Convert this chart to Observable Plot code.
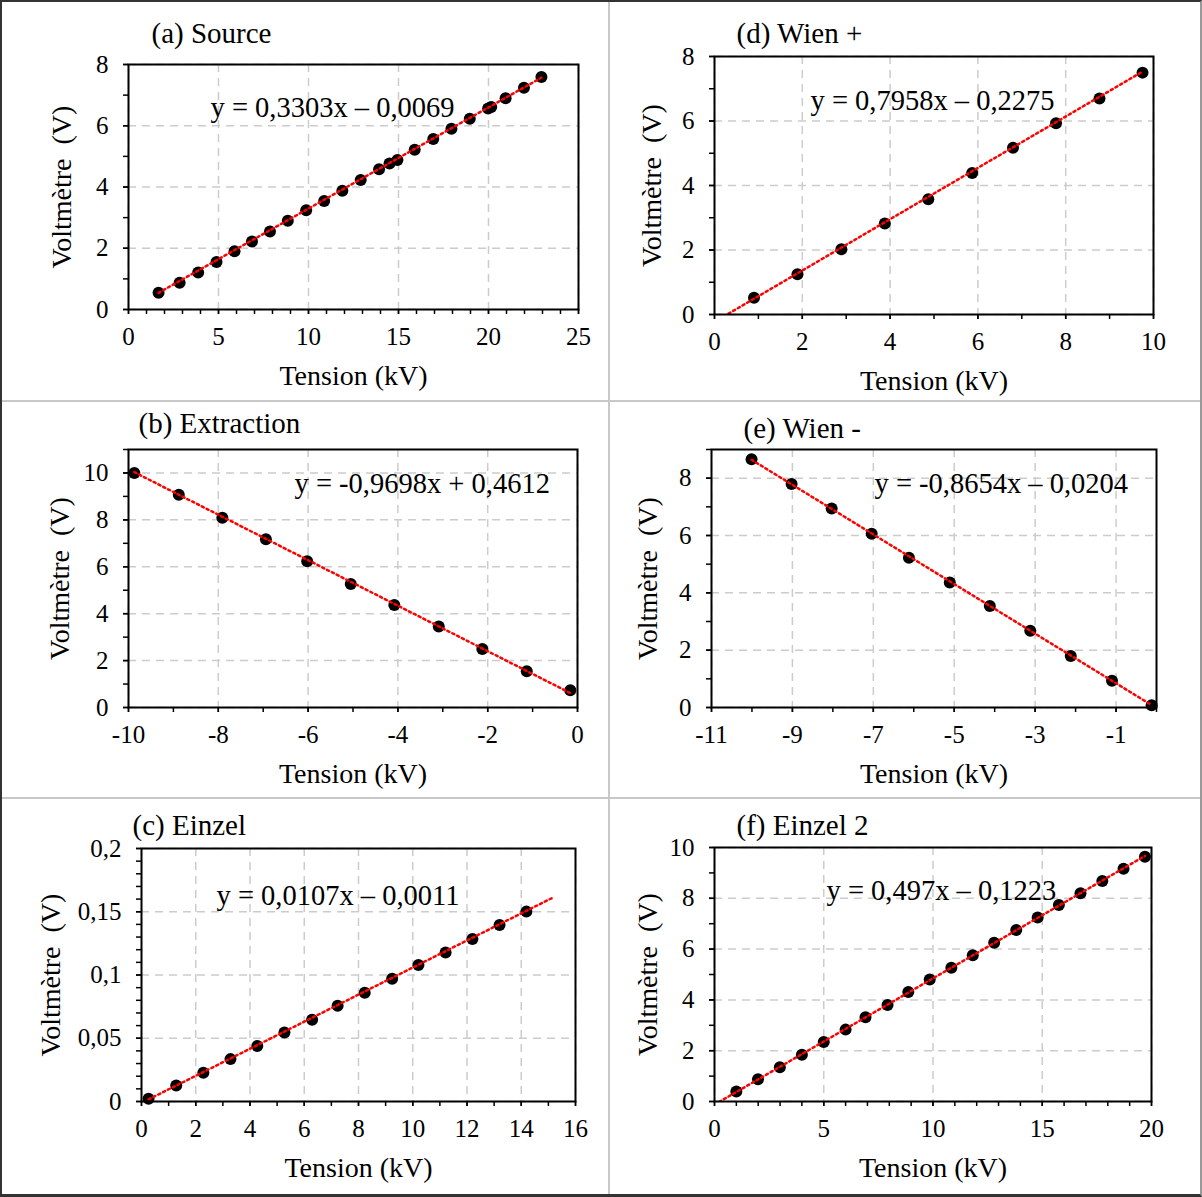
<!DOCTYPE html>
<html><head><meta charset="utf-8">
<script src="https://cdn.jsdelivr.net/npm/d3@7"></script>
<script src="https://cdn.jsdelivr.net/npm/@observablehq/plot@0.6"></script>
<style>
html,body{margin:0;padding:0;background:#fff;overflow:hidden}
#wrap{position:relative;width:1202px;height:1197px;background:#fff}
.cell{position:absolute}
.border{position:absolute;left:0;top:0;width:1202px;height:1197px;box-sizing:border-box;border-left:2px solid #333;border-top:2px solid #333;border-bottom:3px solid #333;border-right:2px solid #999;pointer-events:none}
.vline{position:absolute;left:608px;top:0;width:2px;height:1197px;background:#c8c8c8}
.hline{position:absolute;left:0;width:1202px;height:2px;background:#c8c8c8}
</style></head><body><div id="wrap"></div>
<script>
// ---- data ----
const sourceX = [1.67, 2.84, 3.87, 4.89, 5.89, 6.86, 7.86, 8.85, 9.87, 10.87, 11.88, 12.9, 13.92, 14.5, 14.94, 15.9, 16.93, 17.94, 18.96, 19.98, 20.15, 20.95, 21.97, 22.94];
const sourceY = [0.55, 0.87, 1.21, 1.55, 1.90, 2.22, 2.55, 2.90, 3.24, 3.54, 3.88, 4.23, 4.58, 4.77, 4.88, 5.22, 5.57, 5.90, 6.23, 6.56, 6.61, 6.90, 7.24, 7.59];

const extractionX = [-9.87, -8.88, -7.91, -6.94, -6.02, -5.05, -4.08, -3.09, -2.12, -1.13, -0.16];
const extractionY = [10.0, 9.07, 8.09, 7.17, 6.24, 5.27, 4.37, 3.45, 2.49, 1.55, 0.74];

const einzelX = [0.26, 1.28, 2.28, 3.28, 4.27, 5.27, 6.29, 7.23, 8.23, 9.24, 10.21, 11.21, 12.2, 13.2, 14.19];
const einzelY = [0.0021, 0.0127, 0.0227, 0.0335, 0.0438, 0.0546, 0.0646, 0.0757, 0.086, 0.0971, 0.1079, 0.1177, 0.1285, 0.1396, 0.1501];

const wienPlusX = [0.90, 1.89, 2.89, 3.88, 4.87, 5.87, 6.80, 7.78, 8.77, 9.75];
const wienPlusY = [0.52, 1.25, 2.02, 2.82, 3.57, 4.39, 5.17, 5.93, 6.70, 7.50];

const wienMinusX = [-10.01, -9.02, -8.03, -7.04, -6.12, -5.11, -4.12, -3.12, -2.12, -1.1, -0.12];
const wienMinusY = [8.66, 7.80, 6.94, 6.06, 5.22, 4.36, 3.54, 2.68, 1.80, 0.93, 0.08];

const einzel2X = [1.0, 1.99, 2.99, 4.0, 5.0, 6.0, 6.91, 7.92, 8.87, 9.85, 10.84, 11.82, 12.8, 13.81, 14.79, 15.76, 16.75, 17.75, 18.72, 19.70];
const einzel2Y = [0.39, 0.88, 1.35, 1.84, 2.34, 2.83, 3.32, 3.80, 4.31, 4.80, 5.27, 5.76, 6.25, 6.75, 7.24, 7.74, 8.20, 8.68, 9.16, 9.64];

// titles and fitted equations (slope, intercept as printed)
const titles = ["(a) Source", "(d) Wien +", "(b) Extraction", "(e) Wien -", "(c) Einzel", "(f) Einzel 2"];
const equations = ["y = 0,3303x – 0,0069", "y = 0,7958x – 0,2275", "y = -0,9698x + 0,4612", "y = -0,8654x – 0,0204", "y = 0,0107x – 0,0011", "y = 0,497x – 0,1223"];
const slopes = [0.3303, 0.7958, -0.9698, -0.8654, 0.0107, 0.497];
const intercepts = [-0.0069, -0.2275, 0.4612, -0.0204, -0.0011, -0.1223];
const trendRanges = [[1.67, 22.94], [0, 9.75], [-9.87, -0.16], [-10.01, -0.12], [0.26, 15.2], [0, 19.7]];

// tick labels
const xTicksA = [0, 5, 10, 15, 20, 25], yTicksA = [0, 2, 4, 6, 8];
const xTicksD = [0, 2, 4, 6, 8, 10], yTicksD = [0, 2, 4, 6, 8];
const xTicksB = [-10, -8, -6, -4, -2, 0], yTicksB = [0, 2, 4, 6, 8, 10];
const xTicksE = [-11, -9, -7, -5, -3, -1], yTicksE = [0, 2, 4, 6, 8];
const xTicksC = [0, 2, 4, 6, 8, 10, 12, 14, 16], yTicksC = [0, 0.05, 0.1, 0.15, 0.2];
const xTicksF = [0, 5, 10, 15, 20], yTicksF = [0, 2, 4, 6, 8, 10];

const xLabel = "Tension (kV)";
const yLabel = "Voltmètre  (V)";

// ---- layout ----
const panels = [
  {xs: sourceX, ys: sourceY, xd: [0, 25], yd: [0, 8], xt: xTicksA, yt: yTicksA, xm: d3.range(0, 26), ym: d3.range(0, 9),
   left: 0, top: 0, w: 600, h: 400, ml: 128, mr: 22, mt: 64, mb: 91, t: [23, -31], e: [82, 43], yl: -66},
  {xs: wienPlusX, ys: wienPlusY, xd: [0, 10], yd: [0, 8], xt: xTicksD, yt: yTicksD, xm: d3.range(0, 11), ym: d3.range(0, 9),
   left: 600, top: 0, w: 602, h: 400, ml: 114, mr: 49, mt: 56, mb: 86, t: [22, -23], e: [96, 44], yl: -62},
  {xs: extractionX, ys: extractionY, xd: [-10, 0], yd: [0, 11], xt: xTicksB, yt: yTicksB, xm: d3.range(-10, 1), ym: d3.range(0, 12),
   left: 0, top: 400, w: 600, h: 400, ml: 128, mr: 23, mt: 49, mb: 93, t: [10, -26], e: [166, 34], yl: -68},
  {xs: wienMinusX, ys: wienMinusY, xd: [-11, 0], yd: [0, 9], xt: xTicksE, yt: yTicksE, xm: d3.range(-11, 1), ym: d3.range(0, 10),
   left: 600, top: 400, w: 602, h: 400, ml: 111, mr: 46, mt: 49, mb: 93, t: [32, -21], e: [163, 34], yl: -63},
  {xs: einzelX, ys: einzelY, xd: [0, 16], yd: [0, 0.2], xt: xTicksC, yt: yTicksC, xm: d3.range(0, 17), ym: d3.range(0, 21).map(i => i / 100),
   left: 0, top: 800, w: 600, h: 397, ml: 141, mr: 25, mt: 48, mb: 96, t: [-9, -23], e: [75, 47], yl: -90},
  {xs: einzel2X, ys: einzel2Y, xd: [0, 20], yd: [0, 10], xt: xTicksF, yt: yTicksF, xm: d3.range(0, 21), ym: d3.range(0, 11),
   left: 600, top: 800, w: 602, h: 397, ml: 114, mr: 51, mt: 47, mb: 96, t: [22, -22], e: [112, 43], yl: -66}
];

const serif = "'Liberation Serif','Times New Roman',serif";
const fmt = d => String(d).replace(".", ",");
const gridStyle = {stroke: "#cccccc", strokeOpacity: 1, strokeWidth: 1.5, strokeDasharray: "8,6"};
const wrap = document.getElementById("wrap");

panels.forEach((p, i) => {
  const pts = p.xs.map((x, j) => ({x, y: p.ys[j]}));
  const trend = trendRanges[i].map(x => ({x, y: slopes[i] * x + intercepts[i]}));
  const chart = Plot.plot({
    width: p.w, height: p.h,
    marginLeft: p.ml, marginRight: p.mr, marginTop: p.mt, marginBottom: p.mb,
    style: `background:transparent;font-family:${serif};font-size:25px;color:#000;overflow:visible`,
    x: {domain: p.xd, axis: null},
    y: {domain: p.yd, axis: null},
    marks: [
      Plot.gridX(p.xt, gridStyle),
      Plot.gridY(p.yt, gridStyle),
      Plot.axisX(p.xm, {tickSize: 5, tickFormat: () => "", label: null, strokeWidth: 1.5}),
      Plot.axisX(p.xt, {tickSize: 5, tickPadding: 13, tickFormat: fmt, label: null, strokeWidth: 1.5}),
      Plot.axisY(p.ym, {tickSize: 5, tickFormat: () => "", label: null, strokeWidth: 1.5}),
      Plot.axisY(p.yt, {tickSize: 5, tickPadding: 15, tickFormat: fmt, label: null, strokeWidth: 1.5}),
      Plot.dot(pts, {x: "x", y: "y", r: 6, fill: "#000"}),
      Plot.line(trend, {x: "x", y: "y", stroke: "#ff0000", strokeWidth: 2.5, strokeDasharray: "2.2,3.2", clip: true}),
      Plot.frame({stroke: "#000", strokeWidth: 2}),
      Plot.text([titles[i]], {text: d => d, frameAnchor: "top-left", textAnchor: "start", lineAnchor: "middle", dx: p.t[0], dy: p.t[1], fontSize: 29}),
      Plot.text([equations[i]], {text: d => d, frameAnchor: "top-left", textAnchor: "start", lineAnchor: "middle", dx: p.e[0], dy: p.e[1], fontSize: 28.5}),
      Plot.text([xLabel], {text: d => d, frameAnchor: "bottom", textAnchor: "middle", lineAnchor: "middle", dy: 67, fontSize: 28}),
      Plot.text([yLabel], {text: d => d, frameAnchor: "left", textAnchor: "middle", lineAnchor: "middle", rotate: -90, dx: p.yl, fontSize: 28})
    ]
  });
  const cell = document.createElement("div");
  cell.className = "cell";
  cell.style.left = p.left + "px";
  cell.style.top = p.top + "px";
  cell.appendChild(chart);
  wrap.appendChild(cell);
});

// panel dividers and outer border
const v = document.createElement("div"); v.className = "vline"; wrap.appendChild(v);
[400, 797].forEach(y => { const h = document.createElement("div"); h.className = "hline"; h.style.top = y + "px"; wrap.appendChild(h); });
const b = document.createElement("div"); b.className = "border"; wrap.appendChild(b);
</script>
</body></html>
